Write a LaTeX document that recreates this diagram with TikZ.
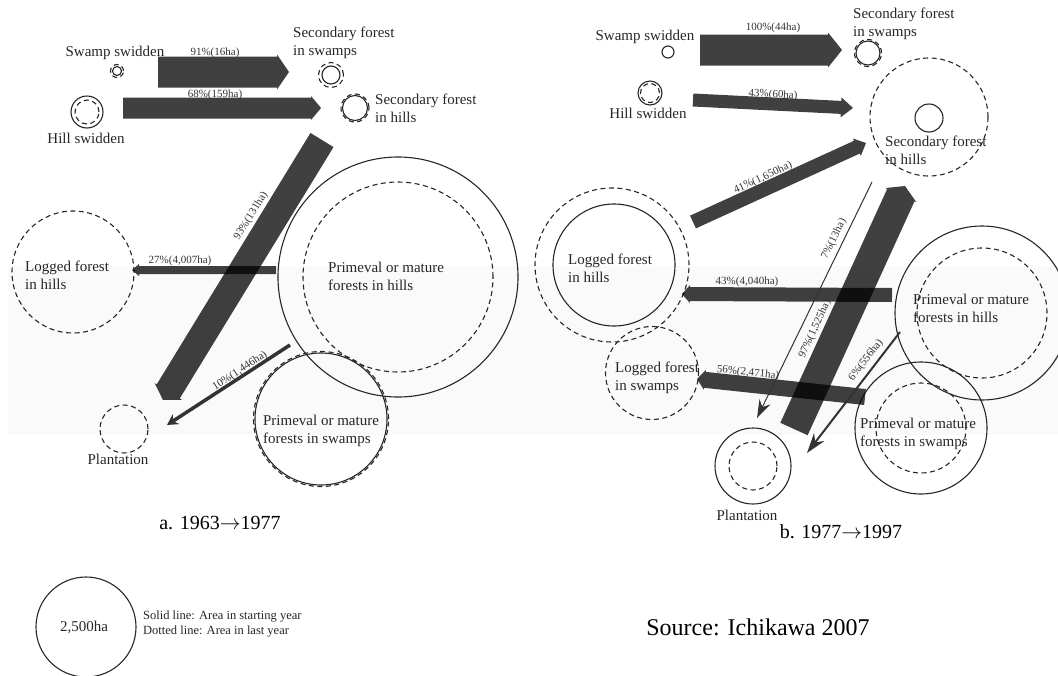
\documentclass[tikz,border=0pt]{standalone}
\usepackage{fontspec}
\setmainfont{Liberation Serif}
\usetikzlibrary{calc,arrows.meta}

% broad flow arrow: from, to, shaft half width, head half width, head length
\newcommand{\flow}[5]{%
  \coordinate (fh) at ($(#2)!#5!(#1)$);
  \fill[flowfill] ($(#1)!#3!90:(#2)$) -- ($(fh)!#3!90:(#2)$) -- ($(fh)!#4!90:(#2)$)
    -- (#2) -- ($(fh)!#4!-90:(#2)$) -- ($(fh)!#3!-90:(#2)$) -- ($(#1)!#3!-90:(#2)$) -- cycle;
}

\tikzset{
  startarea/.style={circle,draw=black!85,line width=1.1pt,inner sep=0pt,minimum size=#1},
  lastarea/.style={circle,draw=black!85,line width=1.1pt,dash pattern=on 5pt off 3.5pt,
    inner sep=0pt,minimum size=#1},
  lbl/.style={font=\fontsize{15}{18}\selectfont,text=black!85,align=left,inner sep=0pt},
  flowlbl/.style={font=\fontsize{11}{12}\selectfont,text=black!80,inner sep=0pt},
  flowfill/.style={fill=black,fill opacity=0.75},
  thinflow/.style={draw=black!80,line cap=butt},
}

\begin{document}
\begin{tikzpicture}[x=1pt,y=-1pt]
    \useasboundingbox (0,0) rectangle (1058,675);
    \fill[black!2] (8,266) rectangle (1058,435);

    % a. 1963 -> 1977 : areas
    \node[startarea=9pt] (ssw) at (117,71) {};
    \node[lastarea=13pt] (ssw-l) at (117,71) {};
    \node[startarea=18pt] (sfs) at (331,75) {};
    \node[lastarea=25pt] (sfs-l) at (331,75) {};
    \node[startarea=32pt] (hsw) at (87,112) {};
    \node[lastarea=24pt] (hsw-l) at (87,112) {};
    \node[startarea=25pt] (sfh) at (355,108) {};
    \node[lastarea=28pt] (sfh-l) at (355,108) {};
    \node[lastarea=122pt] (lfh-l) at (73,272) {};
    \node[startarea=240pt] (pfh) at (398,277) {};
    \node[lastarea=190pt] (pfh-l) at (398,277) {};
    \node[startarea=132pt] (pfs) at (321,419) {};
    \node[lastarea=135pt] (pfs-l) at (321,419) {};
    \node[lastarea=48pt] (pla-l) at (124,429) {};

    \node[lbl] (ssw-t) at (115,53) {Swamp swidden};
    \node[lbl,anchor=west] (sfs-t) at (293,43) {Secondary forest\\in swamps};
    \node[lbl] (hsw-t) at (86,138) {Hill swidden};
    \node[lbl,anchor=west] (sfh-t) at (375,108) {Secondary forest\\in hills};
    \node[lbl,anchor=west] (lfh-t) at (25,275) {Logged forest\\in hills};
    \node[lbl,anchor=west] (pfh-t) at (328,276) {Primeval or mature\\forests in hills};
    \node[lbl] (pfs-t) at (321,431) {Primeval or mature\\forests in swamps};
    \node[lbl] (pla-t) at (118,459) {Plantation};
    \node[font=\fontsize{20}{24}\selectfont] (ta) at (220,523) {a. 1963$\rightarrow$1977};

    % a. flows
    \coordinate (a1s) at (158,72);  \coordinate (a1e) at (289,72);
    \coordinate (a2s) at (123,108); \coordinate (a2e) at (321,108);
    \coordinate (a3s) at (322,140); \coordinate (a3e) at (163,400);
    \coordinate (a4s) at (276,270); \coordinate (a4e) at (132,270);
    \coordinate (a5s) at (290,345); \coordinate (a5e) at (167,425);
    \flow{a1s}{a1e}{15.5pt}{17.5pt}{12pt}
    \flow{a2s}{a2e}{10.5pt}{12pt}{10pt}
    \flow{a3s}{a3e}{13.5pt}{16pt}{10pt}
    \flow{a4s}{a4e}{4pt}{6pt}{7pt}
    \draw[thinflow,line width=3.5pt,-{Stealth[length=11pt,width=12pt,inset=4pt]}] (a5s) -- (a5e);
    \node[flowlbl] (a1-t) at (215,53) {91\%(16ha)};
    \node[flowlbl] (a2-t) at (215,95) {68\%(159ha)};
    \node[flowlbl,rotate=58] (a3-t) at (251,216) {93\%(131ha)};
    \node[flowlbl] (a4-t) at (180,261) {27\%(4,007ha)};
    \node[flowlbl,rotate=33] (a5-t) at (240,371) {10\%(1,446ha)};

    % b. 1977 -> 1997 : areas
    \node[startarea=12pt] (ssw2) at (668,52) {};
    \node[startarea=24pt] (sfs2) at (868,53) {};
    \node[lastarea=27pt] (sfs2-l) at (868,53) {};
    \node[startarea=24pt] (hsw2) at (650,93) {};
    \node[lastarea=19pt] (hsw2-l) at (650,93) {};
    \node[startarea=28pt] (sfh2) at (929,118) {};
    \node[lastarea=118pt] (sfh2-l) at (929,117) {};
    \node[startarea=122pt] (lfh2) at (614,265) {};
    \node[lastarea=154pt] (lfh2-l) at (612,265) {};
    \node[startarea=174pt] (pfh2) at (982,313) {};
    \node[lastarea=130pt] (pfh2-l) at (982,313) {};
    \node[lastarea=93pt] (lfs2-l) at (652,373) {};
    \node[startarea=132pt] (pfs2) at (921,428) {};
    \node[lastarea=90pt] (pfs2-l) at (921,428) {};
    \node[startarea=76pt] (pla2) at (753,466) {};
    \node[lastarea=48pt] (pla2-l) at (753,466) {};

    \node[lbl] (ssw2-t) at (645,37) {Swamp swidden};
    \node[lbl,anchor=west] (sfs2-t) at (853,24) {Secondary forest\\in swamps};
    \node[lbl] (hsw2-t) at (648,113) {Hill swidden};
    \node[lbl,anchor=west] (sfh2-t) at (885,150) {Secondary forest\\in hills};
    \node[lbl,anchor=west] (lfh2-t) at (568,268) {Logged forest\\in hills};
    \node[lbl,anchor=west] (pfh2-t) at (913,308) {Primeval or mature\\forests in hills};
    \node[lbl,anchor=west] (lfs2-t) at (615,378) {Logged forest\\in swamps};
    \node[lbl,anchor=west] (pfs2-t) at (860,434) {Primeval or mature\\forests in swamps};
    \node[lbl] (pla2-t) at (747,515) {Plantation};
    \node[font=\fontsize{20}{24}\selectfont] (tb) at (841,532) {b. 1977$\rightarrow$1997};

    % b. flows
    \coordinate (b1s) at (700,50);  \coordinate (b1e) at (842,50);
    \coordinate (b2s) at (693,100); \coordinate (b2e) at (853,108);
    \coordinate (b3s) at (693,222); \coordinate (b3e) at (866,143);
    \coordinate (b4s) at (892,295); \coordinate (b4e) at (682,294);
    \coordinate (b5s) at (865,397); \coordinate (b5e) at (697,379);
    \coordinate (b6s) at (794,429); \coordinate (b6e) at (905,186);
    \coordinate (b7s) at (872,182); \coordinate (b7e) at (757,418);
    \coordinate (b8s) at (900,332); \coordinate (b8e) at (807,453);
    \flow{b1s}{b1e}{15.5pt}{17.5pt}{14pt}
    \flow{b2s}{b2e}{6.5pt}{10pt}{12pt}
    \flow{b3s}{b3e}{7pt}{9.5pt}{10pt}
    \flow{b4s}{b4e}{7pt}{9pt}{8pt}
    \flow{b5s}{b5e}{8pt}{10pt}{8pt}
    \flow{b6s}{b6e}{15pt}{17pt}{10pt}
    \draw[thinflow,line width=1pt,-{Stealth[length=18pt,width=12pt]}] (b7s) -- (b7e);
    \draw[thinflow,line width=2pt,-{Stealth[length=20pt,width=13pt]}] (b8s) -- (b8e);
    \node[flowlbl] (b1-t) at (773,28) {100\%(44ha)};
    \node[flowlbl,rotate=-3] (b2-t) at (773,95) {43\%(60ha)};
    \node[flowlbl,rotate=24.5] (b3-t) at (763,178) {41\%(1,650ha)};
    \node[flowlbl] (b4-t) at (747,282) {43\%(4,040ha)};
    \node[flowlbl,rotate=-6] (b5-t) at (748,373) {56\%(2,471ha)};
    \node[flowlbl,rotate=65.4] (b6-t) at (815,329) {97\%(1,525ha)};
    \node[flowlbl,rotate=64] (b7-t) at (834,239) {7\%(13ha)};
    \node[flowlbl,rotate=52.5] (b8-t) at (866,360) {6\%(556ha)};

    % Legend and source
    \node[startarea=100pt] (key) at (86,627) {};
    \node[lbl] (key-t) at (84,627) {2,500ha};
    \node[anchor=west,align=left,inner sep=0pt,text=black!85,font=\fontsize{12.5}{15.5}\selectfont]
      (key-note) at (143,624) {Solid line: Area in starting year\\Dotted line: Area in last year};
    \node[font=\fontsize{24}{28}\selectfont] (src) at (758,627) {Source: Ichikawa 2007};

  \end{tikzpicture}
\end{document}
